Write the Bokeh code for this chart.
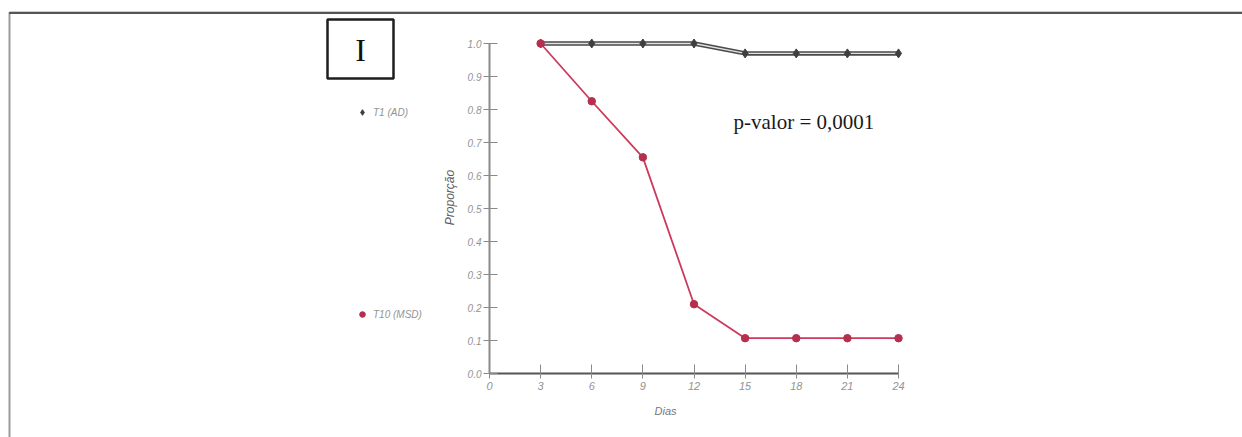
from bokeh.plotting import figure
from bokeh.models import (Range1d, LinearAxis, FixedTicker, Label, BoxAnnotation,
                          Legend, LegendItem)
from bokeh.embed import file_html
from bokeh.resources import INLINE
import math

# ---- data ----
days = [3, 6, 9, 12, 15, 18, 21, 24]
t1_ad = [1.0, 1.0, 1.0, 1.0, 0.97, 0.97, 0.97, 0.97]
t10_msd = [1.0, 0.825, 0.655, 0.21, 0.107, 0.107, 0.107, 0.107]
series_names = ["T1 (AD)", "T10 (MSD)"]

x_ticks = [0, 3, 6, 9, 12, 15, 18, 21, 24]
x_tick_labels = ["0", "3", "6", "9", "12", "15", "18", "21", "24"]
y_ticks = [0.0, 0.1, 0.2, 0.3, 0.4, 0.5, 0.6, 0.7, 0.8, 0.9, 1.0]
y_tick_labels = ["0.0", "0.1", "0.2", "0.3", "0.4", "0.5", "0.6", "0.7", "0.8", "0.9", "1.0"]

panel_tag = "I"
p_value_text = "p-valor = 0,0001"
x_title = "Dias"
y_title = "Proporção"

# ---- page geometry (pixels) ----
W, H = 1242, 437
ORIGIN_X, ORIGIN_Y = 489, 373      # where (0, 0) sits on the page
X_END_PX, Y_TOP_PX = 898, 43       # where x=24 and y=1.0 sit

px_per_day = (X_END_PX - ORIGIN_X) / (x_ticks[-1] - x_ticks[0])
px_per_unit = (ORIGIN_Y - Y_TOP_PX) / (y_ticks[-1] - y_ticks[0])

x_range = Range1d(-ORIGIN_X / px_per_day, (W - ORIGIN_X) / px_per_day)
y_range = Range1d(-(H - ORIGIN_Y) / px_per_unit, 1.0 + Y_TOP_PX / px_per_unit)

p = figure(width=W, height=H, x_range=x_range, y_range=y_range,
           x_axis_location=None, y_axis_location=None,
           toolbar_location=None, output_backend="svg",
           min_border=0, min_border_left=0, min_border_right=0,
           min_border_top=0, min_border_bottom=0,
           background_fill_color="white", border_fill_color="white",
           outline_line_color=None)
p.xgrid.visible = False
p.ygrid.visible = False


def top(y_px):
    """Convert a distance from the top of the page to screen units (from bottom)."""
    return H - y_px


# ---- axes crossing at the origin ----
tick_font = "Liberation Sans"
xaxis = LinearAxis(fixed_location=0, bounds=(x_ticks[0], x_ticks[-1]),
                   ticker=FixedTicker(ticks=x_ticks),
                   major_label_overrides={t: l for t, l in zip(x_ticks, x_tick_labels)})
yaxis = LinearAxis(fixed_location=0, bounds=(y_ticks[0], y_ticks[-1]),
                   ticker=FixedTicker(ticks=y_ticks),
                   major_label_overrides={t: l for t, l in zip(y_ticks, y_tick_labels)})
for ax in (xaxis, yaxis):
    ax.axis_line_color = "#6e6e6e"
    ax.axis_line_width = 2
    ax.major_tick_line_color = "#8a8a8a"
    ax.major_tick_line_width = 1
    ax.minor_tick_line_color = None
    ax.major_label_text_font = tick_font
    ax.major_label_text_font_style = "italic"
    ax.major_label_text_font_size = "10px"
    ax.major_label_text_color = "#939393"
xaxis.axis_line_color = "#555555"
xaxis.major_tick_in = 9
xaxis.major_tick_out = 5
xaxis.major_label_standoff = 3
xaxis.major_label_text_font_size = "11px"
yaxis.axis_line_color = "#8a8a8a"
yaxis.major_tick_in = 8
yaxis.major_tick_out = 6
yaxis.major_label_standoff = 2
p.add_layout(xaxis, "below")
p.add_layout(yaxis, "left")

# ---- series ----
# T1: dark double-stroke line with diamond markers
p.line(days, t1_ad, line_width=4.5, line_color="#4a4a4a")
p.line(days, t1_ad, line_width=1.4, line_color="#e2e2e2")
r_t1 = p.scatter(days, t1_ad, marker="diamond", size=9,
                 fill_color="#3f3f3f", line_color="#3f3f3f")

# T10: crimson line with round markers
p.line(days, t10_msd, line_width=1.8, line_color="#cc3a5c")
r_t10 = p.scatter(days, t10_msd, marker="circle", size=7.5,
                  fill_color="#b5304f", line_color="#b5304f")

# ---- legend entries placed to the left of the axis ----
GLYPH = 14
for renderer, name, y_px in ((r_t1, series_names[0], 112), (r_t10, series_names[1], 314)):
    leg = Legend(items=[LegendItem(label=name, renderers=[renderer])],
                 location=(362 - GLYPH // 2, top(y_px) - GLYPH // 2),
                 orientation="vertical", padding=0, margin=0, spacing=0,
                 glyph_width=GLYPH, glyph_height=GLYPH, label_standoff=4,
                 label_height=GLYPH,
                 label_text_font=tick_font, label_text_font_style="italic",
                 label_text_font_size="10px", label_text_color="#939393",
                 border_line_color=None, background_fill_alpha=0)
    p.add_layout(leg)

# ---- axis titles ----
p.add_layout(Label(x=665, y=top(410), x_units="screen", y_units="screen",
                   text=x_title, text_align="center", text_baseline="middle",
                   text_font=tick_font, text_font_style="italic",
                   text_font_size="11px", text_color="#777777"))
p.add_layout(Label(x=449, y=top(197), x_units="screen", y_units="screen",
                   text=y_title, angle=math.pi / 2,
                   text_align="center", text_baseline="middle",
                   text_font=tick_font, text_font_style="italic",
                   text_font_size="12px", text_color="#5a5a5a"))

# ---- p-value note ----
p.add_layout(Label(x=733, y=top(121), x_units="screen", y_units="screen",
                   text=p_value_text, text_align="left", text_baseline="middle",
                   text_font="Liberation Serif", text_font_size="21px",
                   text_color="#1a1a1a"))

# ---- panel tag box ----
p.add_layout(BoxAnnotation(left=327, right=393, top=top(19), bottom=top(78),
                           left_units="screen", right_units="screen",
                           top_units="screen", bottom_units="screen",
                           fill_alpha=0, line_color="#1e1e1e", line_alpha=1,
                           line_width=2.5))
p.add_layout(Label(x=360, y=top(49), x_units="screen", y_units="screen",
                   text=panel_tag, text_align="center", text_baseline="middle",
                   text_font="Liberation Serif", text_font_size="32px",
                   text_color="#111111"))

# ---- outer frame: lighter left edge, darker top edge ----
p.add_layout(BoxAnnotation(left=9, right=W + 40, top=top(12), bottom=-40,
                           left_units="screen", right_units="screen",
                           top_units="screen", bottom_units="screen",
                           fill_alpha=0, line_color="#9a9a9a", line_alpha=1,
                           line_width=2))
p.add_layout(BoxAnnotation(left=9, right=W + 40, top=top(12), bottom=top(13),
                           left_units="screen", right_units="screen",
                           top_units="screen", bottom_units="screen",
                           fill_color="#555555", fill_alpha=1,
                           line_color="#555555", line_alpha=1, line_width=1))

open("out.html", "w").write(file_html(p, INLINE))
